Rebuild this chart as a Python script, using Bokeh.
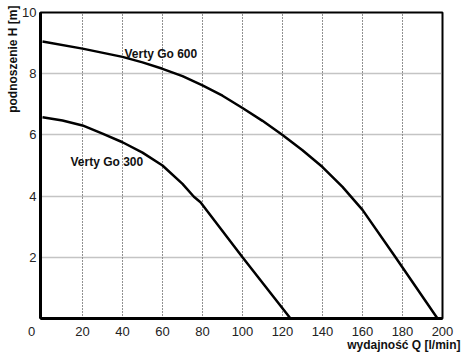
from bokeh.plotting import figure
from bokeh.models import FixedTicker, Label, Range1d, Title
from bokeh.embed import file_html
from bokeh.resources import INLINE

# --- data ---
q600 = [0, 20, 40, 50, 60, 70, 80, 90, 100, 110, 120, 130, 140, 150, 160, 176.5, 197.5]
h600 = [9.05, 8.82, 8.55, 8.37, 8.16, 7.92, 7.62, 7.28, 6.88, 6.46, 6.0, 5.5, 4.95, 4.3, 3.55, 2.0, 0.0]
q300 = [0, 10, 20, 30, 40, 50, 60, 70, 75.7, 79, 100, 124]
h300 = [6.58, 6.47, 6.31, 6.04, 5.76, 5.42, 5.0, 4.4, 3.98, 3.8, 2.0, 0.0]
x_ticks = [0, 20, 40, 60, 80, 100, 120, 140, 160, 180, 200]
y_ticks = [2, 4, 6, 8, 10]
name600 = "Verty Go 600"
name300 = "Verty Go 300"
x_title = "wydajność Q [l/min]"
y_title = "podnoszenie H [m]"

FONT = "Liberation Sans"

p = figure(width=463, height=354, output_backend="svg", toolbar_location=None,
           x_range=Range1d(-1, 200), y_range=Range1d(0, 10),
           min_border_left=40, min_border_right=21, min_border_top=12, min_border_bottom=36)
p.background_fill_color = "white"
p.border_fill_color = "white"
p.outline_line_color = "black"
p.outline_line_width = 2

for ax in (p.xaxis, p.yaxis):
    ax.axis_line_color = "black"
    ax.axis_line_width = 3
    ax.major_tick_line_color = None
    ax.minor_tick_line_color = None
    ax.major_tick_out = 0
    ax.major_tick_in = 0
    ax.minor_tick_out = 0
    ax.major_label_text_font = FONT
    ax.major_label_text_font_size = "13px"
    ax.major_label_text_color = "#222222"

p.xaxis.ticker = FixedTicker(ticks=x_ticks)
p.xaxis.major_label_overrides = {0: "0\u2007\u2007\u2007"}
p.yaxis.ticker = FixedTicker(ticks=y_ticks)
p.xaxis.major_label_standoff = 5
p.yaxis.major_label_standoff = 4

p.xgrid.ticker = FixedTicker(ticks=x_ticks[1:-1])
p.xgrid.grid_line_color = "#222222"
p.xgrid.grid_line_dash = "1 2"
p.xgrid.grid_line_width = 1
p.ygrid.grid_line_color = "#888888"
p.ygrid.grid_line_dash = "1 1"
p.ygrid.grid_line_width = 1.5

p.line(q600, h600, line_color="black", line_width=2.5)
p.line(q300, h300, line_color="black", line_width=2.5)

p.add_layout(Label(x=41, y=8.66, text=name600, text_font=FONT, text_font_style="bold",
                   text_font_size="12px", text_baseline="middle", text_color="#111111"))
p.add_layout(Label(x=14, y=5.13, text=name300, text_font=FONT, text_font_style="bold",
                   text_font_size="12px", text_baseline="middle", text_color="#111111"))

p.add_layout(Title(text=x_title, align="right", offset=-18, standoff=-10, vertical_align="middle",
                   text_font=FONT, text_font_style="bold", text_font_size="12px",
                   text_color="#111111"), "below")
p.add_layout(Title(text=y_title, align="right", offset=-7, standoff=0, text_font=FONT,
                   text_font_style="bold", text_font_size="12px", text_color="#111111"), "left")

open("out.html", "w").write(file_html(p, INLINE))
